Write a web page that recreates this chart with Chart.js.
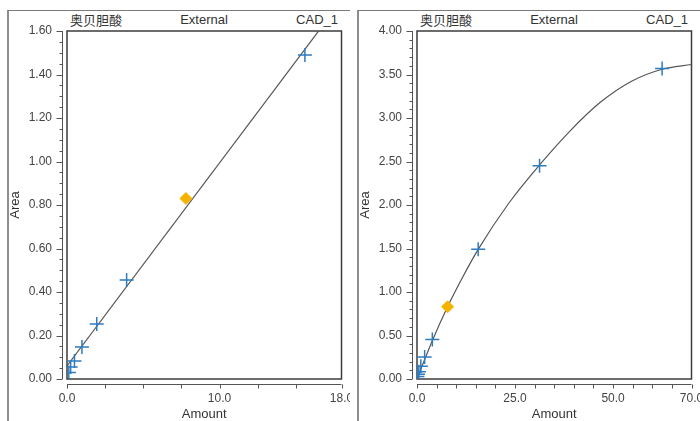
<!DOCTYPE html>
<html>
<head>
<meta charset="utf-8">
<script src="https://cdn.jsdelivr.net/npm/chart.js@4/dist/chart.umd.min.js"></script>
<style>
  html, body { margin: 0; padding: 0; background: #fff; }
  body { width: 700px; height: 421px; position: relative; overflow: hidden;
         font-family: "Liberation Sans", Arial, sans-serif; }
  .panel { position: absolute; top: 0; width: 350px; height: 421px; overflow: hidden; }
  .panel canvas { position: absolute; left: 0; top: 0; }
  .frame { position: absolute; left: 7px; top: 10px; width: 343px; height: 411px;
           border-left: 2px solid #8e8e8e; border-top: 1px solid #7a7a7a; pointer-events: none; }
  .hdr { position: absolute; top: 11px; font-size: 13px; line-height: 17px; color: #333; white-space: nowrap; }
  .hdr.cmp { left: 70px; font-family: "Noto Sans CJK SC", sans-serif; font-size: 13px; }
  .hdr.mid { left: 204px; transform: translateX(-50%); }
  .hdr.end { right: 12px; }
</style>
</head>
<body>

<div class="panel" style="left:0">
  <div class="frame"></div>
  <span class="hdr cmp">奥贝胆酸</span>
  <span class="hdr mid">External</span>
  <span class="hdr end">CAD_1</span>
  <canvas id="chartLinear" width="350" height="421"></canvas>
</div>

<div class="panel" style="left:350px">
  <div class="frame"></div>
  <span class="hdr cmp">奥贝胆酸</span>
  <span class="hdr mid">External</span>
  <span class="hdr end">CAD_1</span>
  <canvas id="chartQuadratic" width="350" height="421"></canvas>
</div>

<script>
// ─── Data ─────────────────────────────────────────────────────────────────────

// calibration standards (amount vs peak area)
const stdAmounts = [0.12, 0.24, 0.49, 0.98, 1.95, 3.91, 15.6, 31.25, 62.5];
const stdAreas   = [0.03, 0.055, 0.083, 0.147, 0.253, 0.455, 1.49, 2.45, 3.57];

// QC sample (orange diamond)
const qcAmounts = [7.8];
const qcAreas   = [0.83];

// left panel: linear fit line
const linFitX = [0, 18];
const linFitY = [0.06, 1.74];

// right panel: quadratic fit curve
const quadFitX = [0, 3.9, 7.8, 11.7, 15.6, 23.4, 31.25, 39, 46.75, 54.6, 62.5, 70];
const quadFitY = [0, 0.44, 0.83, 1.175, 1.49, 2.02, 2.46, 2.85, 3.18, 3.42, 3.56, 3.615];

// labelled ticks and tick marks
const linXLabels  = [0, 10, 18];
const linXMarks   = [0, 2.5, 5, 7.5, 10, 12.5, 15, 18];
const quadXLabels = [0, 25, 50, 70];
const quadXMarks  = [0, 5, 10, 15, 20, 25, 30, 35, 40, 45, 50, 55, 60, 65, 70];

// ─── Styles ───────────────────────────────────────────────────────────────────

const CROSS_COLOR = '#2e7bc0';
const QC_COLOR    = '#f5b301';
const FIT_COLOR   = '#555';
const TICK_FONT   = { family: '"Liberation Sans", Arial, sans-serif', size: 12 };
const TITLE_FONT  = { family: '"Liberation Sans", Arial, sans-serif', size: 13, lineHeight: 1 };

const toPoints = (xs, ys) => xs.map((x, i) => ({ x, y: ys[i] }));

// ─── Offset axes + plot frame plugin ─────────────────────────────────────────

const offsetAxes = {
  id: 'offsetAxes',
  beforeDatasetsDraw(chart, args, opts) {
    const { ctx, chartArea: a, scales: { x, y } } = chart;
    const gap = 5;
    ctx.save();

    // plot frame
    ctx.strokeStyle = '#3c3c3c';
    ctx.lineWidth = 1.5;
    ctx.strokeRect(a.left, a.top, a.right - a.left, a.bottom - a.top);

    ctx.strokeStyle = '#555';
    ctx.lineWidth = 1;

    // y axis line
    const ax = a.left - gap + 0.5;
    ctx.beginPath();
    ctx.moveTo(ax, a.top);
    ctx.lineTo(ax, a.bottom);
    ctx.stroke();

    // y ticks (major at labelled steps, minor in between)
    const nMinor = Math.round((y.max - y.min) / opts.yMinorStep);
    for (let i = 0; i <= nMinor; i++) {
      const v = y.min + i * opts.yMinorStep;
      const isMajor = Math.abs(v / opts.yMajorStep - Math.round(v / opts.yMajorStep)) < 1e-6;
      const py = Math.round(y.getPixelForValue(v)) + 0.5;
      ctx.beginPath();
      ctx.moveTo(ax, py);
      ctx.lineTo(ax - (isMajor ? 6 : 3), py);
      ctx.stroke();
    }

    // x axis line + tick marks
    const ay = a.bottom + gap + 0.5;
    ctx.beginPath();
    ctx.moveTo(a.left, ay);
    ctx.lineTo(a.right, ay);
    ctx.stroke();

    opts.xTicks.forEach(v => {
      const px = Math.round(x.getPixelForValue(v)) + 0.5;
      ctx.beginPath();
      ctx.moveTo(px, ay);
      ctx.lineTo(px, ay + 4);
      ctx.stroke();
    });

    ctx.restore();
  }
};

// ─── Chart factory ────────────────────────────────────────────────────────────

function makeChart(canvasId, cfg) {
  const canvas = document.getElementById(canvasId);
  return new Chart(canvas, {
    type: 'scatter',
    data: {
      datasets: [
        {
          label: 'Standards',
          data: toPoints(stdAmounts, stdAreas),
          pointStyle: 'cross', pointRadius: 7, pointBorderWidth: 1.5,
          borderColor: CROSS_COLOR, backgroundColor: CROSS_COLOR,
        },
        {
          label: 'QC',
          data: toPoints(qcAmounts, qcAreas),
          pointStyle: 'rectRot', pointRadius: 6, pointBorderWidth: 1,
          borderColor: QC_COLOR, backgroundColor: QC_COLOR,
        },
        {
          label: 'Fit',
          data: toPoints(cfg.fitX, cfg.fitY),
          showLine: true, pointRadius: 0, borderWidth: 1.2,
          borderColor: FIT_COLOR, backgroundColor: FIT_COLOR,
          cubicInterpolationMode: cfg.curved ? 'monotone' : 'default',
        },
      ]
    },
    options: {
      responsive: false, animation: false, devicePixelRatio: 1,
      layout: { padding: { top: 31, right: 8, left: 0, bottom: 0 } },
      plugins: {
        legend: { display: false },
        tooltip: { enabled: false },
        offsetAxes: { yMajorStep: cfg.yStep, yMinorStep: cfg.yMinor, xTicks: cfg.xMarks },
      },
      scales: {
        x: {
          type: 'linear', min: 0, max: cfg.xMax,
          grid: { display: false, drawTicks: false },
          border: { display: false },
          afterBuildTicks: s => { s.ticks = cfg.xLabels.map(v => ({ value: v })); },
          afterFit: s => { s.height = 42; s.paddingLeft = 0; s.paddingRight = 0; },
          ticks: {
            padding: 12, color: '#444', font: TICK_FONT, maxRotation: 0,
            autoSkip: false, callback: v => Number(v).toFixed(1)
          },
          title: { display: true, text: 'Amount', color: '#333', font: TITLE_FONT,
                   padding: { top: 0, bottom: 0 } }
        },
        y: {
          type: 'linear', min: 0, max: cfg.yMax,
          grid: { display: false, drawTicks: false },
          border: { display: false },
          afterFit: s => { s.width = 67; s.paddingTop = 0; s.paddingBottom = 0; },
          ticks: {
            stepSize: cfg.yStep, padding: 15, color: '#444', font: TICK_FONT,
            callback: v => Number(v).toFixed(2)
          },
          title: { display: true, text: 'Area', color: '#333', font: TITLE_FONT,
                   padding: { top: 9, bottom: 0 } }
        }
      }
    },
    plugins: [offsetAxes]
  });
}

// ─── Render ───────────────────────────────────────────────────────────────────

makeChart('chartLinear', {
  fitX: linFitX, fitY: linFitY, curved: false,
  xMax: 18, xLabels: linXLabels, xMarks: linXMarks,
  yMax: 1.6, yStep: 0.2, yMinor: 0.05,
});

makeChart('chartQuadratic', {
  fitX: quadFitX, fitY: quadFitY, curved: true,
  xMax: 70, xLabels: quadXLabels, xMarks: quadXMarks,
  yMax: 4, yStep: 0.5, yMinor: 0.1,
});
</script>
</body>
</html>
